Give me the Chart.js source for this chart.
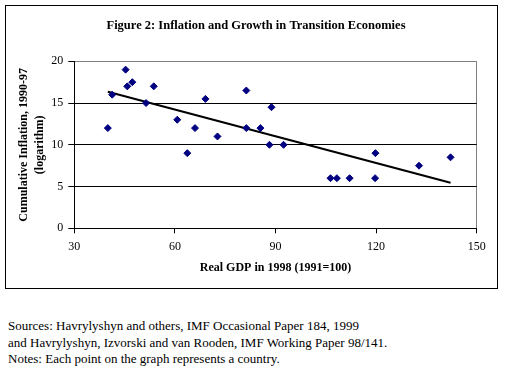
<!DOCTYPE html>
<html>
<head>
<meta charset="utf-8">
<script src="https://cdn.jsdelivr.net/npm/chart.js@4"></script>
<style>
  body { margin: 0; background: #fff; width: 507px; height: 375px; position: relative; overflow: hidden; }
  #box { position: absolute; left: 5px; top: 5px; width: 491px; height: 282px; border: 1px solid #000; }
  #notes { position: absolute; left: 8px; top: 318px; font-family: 'Liberation Serif', serif; font-size: 13px; line-height: 16.5px; color: #000; }
</style>
</head>
<body>
<div id="box"><canvas id="myChart" width="491" height="282"></canvas></div>
<div id="notes">
  Sources: Havrylyshyn and others, IMF Occasional Paper 184, 1999<br>
  and Havrylyshyn, Izvorski and van Rooden, IMF Working Paper 98/141.<br>
  Notes: Each point on the graph represents a country.
</div>
<script>
// values
const gdp1998 = [40, 41.3, 45.3, 45.8, 47.3, 51.4, 53.7, 60.7, 63.7, 66, 69.1, 72.7, 81.3, 81.3, 85.5,
                 88.2, 88.8, 92.4, 106.4, 108.3, 112.1, 119.8, 119.7, 132.8, 142.2];
const inflation = [12, 16, 19, 17, 17.5, 15, 17, 13, 9, 12, 15.5, 11, 16.5, 12, 12,
                   10, 14.5, 10, 6, 6, 6, 9, 6, 7.5, 8.5];
// trendline ends
const trendX = [40, 142.2];
const trendY = [16.35, 5.45];

const xTicks = [30, 60, 90, 120, 150];
const yTicks = [0, 5, 10, 15, 20];

const serif = 'Liberation Serif';

chartIt();

function chartIt() {
    const points = gdp1998.map((x, i) => ({ x: x, y: inflation[i] }));
    const trend = trendX.map((x, i) => ({ x: x, y: trendY[i] }));

    const ctx = document.getElementById('myChart').getContext('2d');
    const myChart = new Chart(ctx, {
        type: 'scatter',
        data: {
            datasets: [{
                data: points,
                pointStyle: 'rectRot',
                pointRadius: 3.5,
                backgroundColor: '#000080',
                borderColor: '#000080',
                borderWidth: 1
            }, {
                type: 'line',
                data: trend,
                borderColor: '#000',
                borderWidth: 2,
                pointRadius: 0,
                fill: false
            }]
        },
        options: {
            responsive: false,
            animation: false,
            layout: { padding: { left: 9, right: 0, top: 0, bottom: 0 } },
            plugins: {
                legend: { display: false },
                tooltip: { enabled: false },
                title: {
                    display: true,
                    text: 'Figure 2: Inflation and Growth in Transition Economies',
                    color: '#000',
                    font: { family: serif, size: 12.5, weight: 'bold', lineHeight: 1.2 },
                    padding: { top: 12, bottom: 28.3 }
                }
            },
            scales: {
                x: {
                    type: 'linear',
                    min: 30,
                    max: 150,
                    afterBuildTicks: s => { s.ticks = xTicks.map(v => ({ value: v })); },
                    afterFit: s => { s.height = 59.7; },
                    ticks: { color: '#000', padding: 6, maxRotation: 0, font: { family: serif, size: 12 } },
                    grid: {
                        color: c => c.tick && c.tick.value === 150 ? '#808080' : 'rgba(0,0,0,0)',
                        tickColor: '#000',
                        tickLength: 5,
                        lineWidth: 1
                    },
                    border: { color: '#000', width: 1 },
                    title: {
                        display: true,
                        text: 'Real GDP in 1998 (1991=100)',
                        color: '#000',
                        font: { family: serif, size: 12, weight: 'bold', lineHeight: 1.333 },
                        padding: { top: 0, bottom: 12 }
                    }
                },
                y: {
                    min: 0,
                    max: 20,
                    afterBuildTicks: s => { s.ticks = yTicks.map(v => ({ value: v })); },
                    afterFit: s => { s.width = 59.3; },
                    ticks: { color: '#000', padding: 5, font: { family: serif, size: 12 } },
                    grid: {
                        color: c => c.tick && c.tick.value === 20 ? '#808080' : '#000',
                        tickColor: '#000',
                        tickLength: 6,
                        lineWidth: 1
                    },
                    border: { color: '#000', width: 1 },
                    title: {
                        display: true,
                        text: ['Cumulative Inflation, 1990-97', '(logarithm)'],
                        color: '#000',
                        font: { family: serif, size: 12, weight: 'bold', lineHeight: 1.333 },
                        padding: { top: 1, bottom: 0 }
                    }
                },
                // empty right-hand scale, only to keep the plot's right edge in place
                yRight: {
                    position: 'right',
                    display: true,
                    afterFit: s => { s.width = 20.3; },
                    ticks: { display: false },
                    grid: { display: false },
                    border: { display: false }
                }
            }
        }
    });
}
</script>
</body>
</html>
